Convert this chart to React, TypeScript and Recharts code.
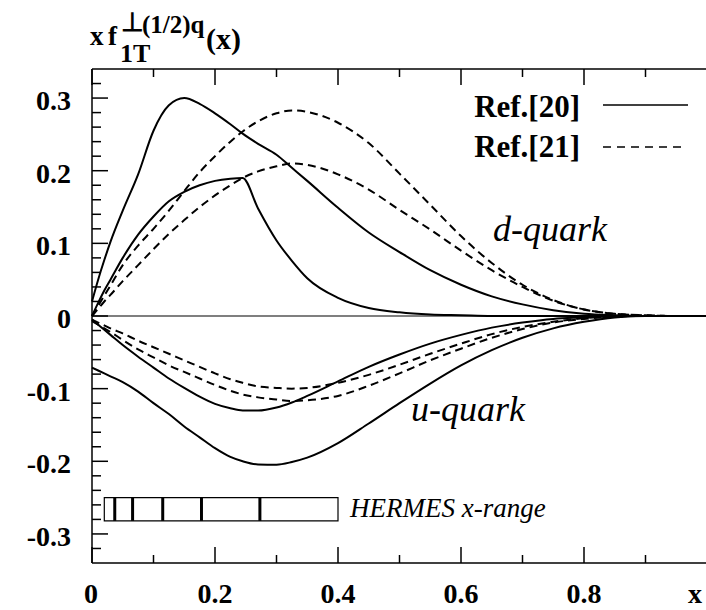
import React from "react";
import { LineChart, Line, XAxis, YAxis, ReferenceLine, ReferenceArea } from "recharts";

const SERIF = '"Liberation Serif", "Times New Roman", serif';

// x grid shared by all curves
const xs = [0, 0.01, 0.02, 0.03, 0.05, 0.075, 0.1, 0.125, 0.15, 0.175, 0.2, 0.225, 0.245, 0.27, 0.3, 0.325, 0.35, 0.4, 0.45, 0.5, 0.55, 0.6, 0.65, 0.7, 0.75, 0.8, 0.85, 0.9, 0.95, 1.0];

// Ref.[20] (solid), d-quark
const dRef20High = [0.02, 0.05, 0.077, 0.102, 0.145, 0.195, 0.255, 0.29, 0.3, 0.292, 0.279, 0.264, 0.251, 0.237, 0.222, 0.204, 0.186, 0.149, 0.115, 0.088, 0.063, 0.043, 0.027, 0.016, 0.008, 0.003, 0.001, 0, 0, 0];
const dRef20Low = [0, 0.018, 0.035, 0.05, 0.08, 0.112, 0.137, 0.158, 0.171, 0.18, 0.186, 0.189, 0.19, 0.148, 0.104, 0.076, 0.052, 0.025, 0.011, 0.005, 0.002, 0.001, 0, 0, 0, 0, 0, 0, 0, 0];
// Ref.[21] (dashed), d-quark
const dRef21High = [0, 0.014, 0.028, 0.042, 0.07, 0.097, 0.12, 0.145, 0.172, 0.198, 0.22, 0.24, 0.254, 0.268, 0.279, 0.283, 0.281, 0.266, 0.238, 0.196, 0.153, 0.11, 0.073, 0.043, 0.022, 0.009, 0.003, 0.001, 0, 0];
const dRef21Low = [0, 0.01, 0.02, 0.029, 0.048, 0.07, 0.092, 0.113, 0.132, 0.15, 0.166, 0.18, 0.19, 0.199, 0.206, 0.21, 0.208, 0.195, 0.174, 0.146, 0.119, 0.09, 0.063, 0.04, 0.021, 0.009, 0.003, 0.001, 0, 0];
// Ref.[20] (solid), u-quark
const uRef20Upper = [-0.005, -0.012, -0.019, -0.026, -0.04, -0.056, -0.071, -0.086, -0.099, -0.111, -0.121, -0.127, -0.13, -0.1302, -0.126, -0.119, -0.11, -0.09, -0.07, -0.053, -0.038, -0.026, -0.016, -0.009, -0.004, -0.002, 0, 0, 0, 0];
const uRef20Lower = [-0.071, -0.075, -0.079, -0.083, -0.091, -0.104, -0.12, -0.135, -0.152, -0.167, -0.182, -0.194, -0.2, -0.2043, -0.2046, -0.201, -0.195, -0.175, -0.148, -0.12, -0.093, -0.068, -0.047, -0.03, -0.017, -0.008, -0.002, 0, 0, 0];
// Ref.[21] (dashed), u-quark
const uRef21Upper = [-0.005, -0.009, -0.013, -0.017, -0.024, -0.034, -0.043, -0.052, -0.061, -0.07, -0.079, -0.087, -0.092, -0.097, -0.099, -0.1, -0.099, -0.092, -0.081, -0.067, -0.052, -0.038, -0.025, -0.015, -0.008, -0.003, -0.001, 0, 0, 0];
const uRef21Lower = [-0.007, -0.012, -0.017, -0.022, -0.033, -0.046, -0.057, -0.068, -0.077, -0.086, -0.095, -0.103, -0.108, -0.112, -0.115, -0.117, -0.116, -0.11, -0.096, -0.079, -0.061, -0.045, -0.03, -0.018, -0.009, -0.004, -0.001, 0, 0, 0];

// axis ticks
const xTicks = [0, 0.1, 0.2, 0.3, 0.4, 0.5, 0.6, 0.7, 0.8, 0.9];
const xMajor = [0, 0.2, 0.4, 0.6, 0.8];
const xLabels = ["0", "0.2", "0.4", "0.6", "0.8"];
const yTicks = [-0.32, -0.3, -0.28, -0.26, -0.24, -0.22, -0.2, -0.18, -0.16, -0.14, -0.12, -0.1, -0.08, -0.06, -0.04, -0.02, 0, 0.02, 0.04, 0.06, 0.08, 0.1, 0.12, 0.14, 0.16, 0.18, 0.2, 0.22, 0.24, 0.26, 0.28, 0.3, 0.32];
const yMajor = [-0.3, -0.2, -0.1, 0, 0.1, 0.2, 0.3];
const yLabels = ["-0.3", "-0.2", "-0.1", "0", "0.1", "0.2", "0.3"];

// HERMES x-range box and bin marks
const hermesRange = [0.02, 0.4];
const hermesBins = [0.037, 0.066, 0.115, 0.178, 0.273];

const data = xs.map((x, i) => ({
  x,
  d20a: dRef20High[i],
  d20b: dRef20Low[i],
  d21a: dRef21High[i],
  d21b: dRef21Low[i],
  u20a: uRef20Upper[i],
  u20b: uRef20Lower[i],
  u21a: uRef21Upper[i],
  u21b: uRef21Lower[i],
}));

const near = (a: number, b: number) => Math.abs(a - b) < 1e-6;

const BottomTick = (props: any) => {
  const { x, y, payload } = props;
  const idx = xMajor.findIndex((m) => near(m, payload.value));
  const major = idx >= 0;
  return (
    <g>
      <line x1={x} y1={y} x2={x} y2={y - (major ? 16 : 8)} stroke="#000" strokeWidth={1.5} />
      {major && (
        <text x={x - (idx === 0 ? 1 : 0)} y={y + 40} textAnchor="middle" fontFamily={SERIF} fontWeight="bold" fontSize={28} fill="#000">
          {xLabels[idx]}
        </text>
      )}
    </g>
  );
};

const TopTick = (props: any) => {
  const { x, y, payload } = props;
  const major = xMajor.some((m) => near(m, payload.value));
  return <line x1={x} y1={y} x2={x} y2={y + (major ? 16 : 8)} stroke="#000" strokeWidth={1.5} />;
};

const LeftTick = (props: any) => {
  const { x, y, payload } = props;
  const idx = yMajor.findIndex((m) => near(m, payload.value));
  const major = idx >= 0;
  return (
    <g>
      <line x1={x} y1={y} x2={x + (major ? 16 : 9)} y2={y} stroke="#000" strokeWidth={1.5} />
      {major && (
        <text x={x - 21} y={y + 12} textAnchor="end" fontFamily={SERIF} fontWeight="bold" fontSize={28} fill="#000">
          {yLabels[idx]}
        </text>
      )}
    </g>
  );
};

const RightTick = (props: any) => {
  const { x, y, payload } = props;
  const major = yMajor.some((m) => near(m, payload.value));
  return <line x1={x} y1={y} x2={x - (major ? 16 : 9)} y2={y} stroke="#000" strokeWidth={1.5} />;
};

export default function App() {
  const solid = { type: "monotone" as const, stroke: "#000", strokeWidth: 2, dot: false, isAnimationActive: false };
  const dashed = { ...solid, strokeDasharray: "8 5" };
  const frame = { stroke: "#000", strokeWidth: 1.5 };

  return (
    <div style={{ position: "fixed", left: 0, top: 0, width: 706, height: 610, overflow: "hidden", background: "#fff" }}>
      <LineChart width={708} height={610} data={data} margin={{ top: 68, right: 0, bottom: 46, left: 91 }}>
        <XAxis dataKey="x" type="number" domain={[0, 1]} ticks={xTicks} interval={0} height={1}
          tickSize={0} tickMargin={0} tickLine={false} axisLine={frame} tick={BottomTick} />
        <XAxis xAxisId="t" dataKey="x" type="number" orientation="top" domain={[0, 1]} ticks={xTicks} interval={0} height={1}
          tickSize={0} tickMargin={0} tickLine={false} axisLine={frame} tick={TopTick} />
        <YAxis type="number" domain={[-0.34, 0.34]} ticks={yTicks} interval={0} width={1}
          tickSize={0} tickMargin={0} tickLine={false} axisLine={frame} tick={LeftTick} />
        <YAxis yAxisId="r" orientation="right" type="number" domain={[-0.34, 0.34]} ticks={yTicks} interval={0} width={1}
          tickSize={0} tickMargin={0} tickLine={false} axisLine={frame} tick={RightTick} />

        <ReferenceLine y={0} stroke="#000" strokeWidth={1.2} />

        <ReferenceArea x1={hermesRange[0]} x2={hermesRange[1]} y1={-0.282} y2={-0.25}
          fill="none" fillOpacity={0} stroke="#000" strokeWidth={1.2} />
        {hermesBins.map((b) => (
          <ReferenceLine key={b} segment={[{ x: b, y: -0.282 }, { x: b, y: -0.25 }]} stroke="#000" strokeWidth={3} />
        ))}

        <Line dataKey="d20a" {...solid} />
        <Line dataKey="d20b" {...solid} />
        <Line dataKey="u20a" {...solid} />
        <Line dataKey="u20b" {...solid} />
        <Line dataKey="d21a" {...dashed} />
        <Line dataKey="d21b" {...dashed} />
        <Line dataKey="u21a" {...dashed} />
        <Line dataKey="u21b" {...dashed} />
      </LineChart>

      <svg width={706} height={610} style={{ position: "absolute", left: 0, top: 0, pointerEvents: "none" }}>
        <g fontFamily={SERIF} fontWeight="bold" fill="#000">
          {/* axis title */}
          <text x={90} y={45} fontSize={27}>x</text>
          <text x={108} y={45} fontSize={27}>f</text>
          <text x={121} y={31} fontSize={26}>⊥</text>
          <text x={142} y={33} fontSize={25}>(1/2)q</text>
          <text x={120} y={62} fontSize={26}>1T</text>
          <text x={206} y={49} fontSize={30}>(x)</text>
          <text x={695} y={603} fontSize={28} textAnchor="middle">x</text>

          {/* legend */}
          <text x={580} y={117} fontSize={31} textAnchor="end">Ref.[20]</text>
          <text x={580} y={157} fontSize={31} textAnchor="end">Ref.[21]</text>
        </g>
        <line x1={603} y1={105} x2={688} y2={105} stroke="#000" strokeWidth={1.5} />
        <line x1={603} y1={147} x2={686} y2={147} stroke="#000" strokeWidth={1.5} strokeDasharray="8 6" />

        <g fontFamily={SERIF} fontStyle="italic" fill="#000">
          <text x={493} y={241} fontSize={36}>d-quark</text>
          <text x={411} y={421} fontSize={36}>u-quark</text>
          <text x={350} y={517} fontSize={27}>HERMES x-range</text>
        </g>
      </svg>
    </div>
  );
}
